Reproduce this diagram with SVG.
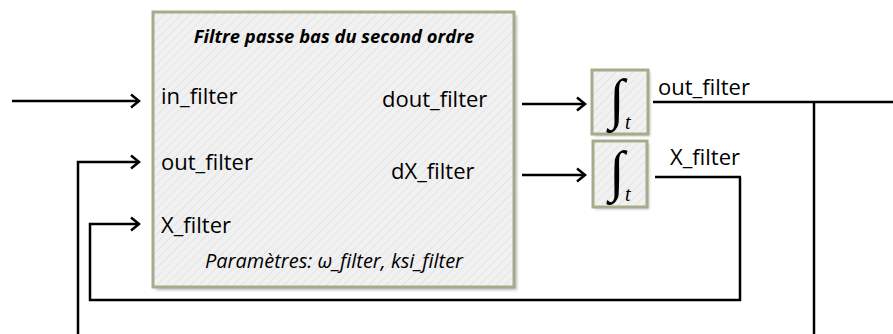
<svg xmlns="http://www.w3.org/2000/svg" width="893" height="334" viewBox="0 0 893 334">
<style>
.lbl{font-family:"Open Sans","Liberation Sans",sans-serif;font-size:22px;fill:#000}
.ttl{font-family:"Open Sans","Liberation Sans",sans-serif;font-size:18.4px;font-weight:bold;font-style:italic;fill:#000}
.par{font-family:"Open Sans","Liberation Sans",sans-serif;font-size:20px;font-style:italic;fill:#000}
.box{fill:url(#hatch);stroke:#a7ab8c;stroke-width:3}
.wire{fill:none;stroke:#000;stroke-width:2.5}
.int{font-family:"Liberation Serif","DejaVu Serif",serif;font-size:56px;fill:#000}
.sub{font-family:"Liberation Serif",serif;font-style:italic;font-size:20px;fill:#000}
</style>
<defs>
<pattern id="hatch" width="6" height="6" patternUnits="userSpaceOnUse" patternTransform="rotate(45)">
<rect width="6" height="6" fill="#f1f1f1"/>
<line x1="0" y1="0" x2="0" y2="6" stroke="#e4e4e4" stroke-width="2"/>
</pattern>
<filter id="sh" x="-5%" y="-5%" width="115%" height="115%">
<feGaussianBlur stdDeviation="1.5"/>
</filter>
<marker id="arr" markerWidth="12" markerHeight="16" refX="10" refY="8" orient="auto" markerUnits="userSpaceOnUse">
<polyline points="2,1.5 10,8 2,14.5" fill="none" stroke="#000" stroke-width="2.5"/>
</marker>
</defs>

<g id="filter-block">
<rect x="156" y="15" width="361" height="275" fill="#bbb" filter="url(#sh)"/>
<rect class="box" x="153" y="12" width="361" height="275"/>
<text class="ttl" x="334" y="43" text-anchor="middle">Filtre passe bas du second ordre</text>
<text class="lbl" x="161" y="104">in_filter</text>
<text class="lbl" x="161" y="170">out_filter</text>
<text class="lbl" x="161" y="233">X_filter</text>
<text class="lbl" x="382" y="107">dout_filter</text>
<text class="lbl" x="391" y="179">dX_filter</text>
<text class="par" x="334" y="268" text-anchor="middle">Paramètres: ω_filter, ksi_filter</text>
</g>

<g id="integrator-1">
<rect x="594" y="72" width="56" height="64" fill="#bbb" filter="url(#sh)"/>
<rect class="box" x="592" y="70" width="56" height="64"/>
<text class="int" x="609" y="118">∫</text>
<text class="sub" x="625" y="129">t</text>
</g>

<g id="integrator-2">
<rect x="595" y="143" width="54" height="66" fill="#bbb" filter="url(#sh)"/>
<rect class="box" x="593" y="141" width="54" height="66"/>
<text class="int" x="609" y="190">∫</text>
<text class="sub" x="625" y="201">t</text>
</g>

<g id="labels">
<text class="lbl" x="658" y="95">out_filter</text>
<text class="lbl" x="670" y="165">X_filter</text>
</g>

<g id="connectors">
<line class="wire" x1="12" y1="101" x2="139" y2="101" marker-end="url(#arr)"/>
<polyline class="wire" points="78,334 78,162 139,162" marker-end="url(#arr)"/>
<polyline class="wire" points="740,177 740,300 90,300 90,224 139,224" marker-end="url(#arr)"/>
<line class="wire" x1="655" y1="177" x2="741" y2="177"/>
<line class="wire" x1="522" y1="104" x2="585" y2="104" marker-end="url(#arr)"/>
<line class="wire" x1="522" y1="175" x2="585" y2="175" marker-end="url(#arr)"/>
<line class="wire" x1="653" y1="102" x2="893" y2="102"/>
<line class="wire" x1="814" y1="102" x2="814" y2="334"/>
</g>
</svg>
